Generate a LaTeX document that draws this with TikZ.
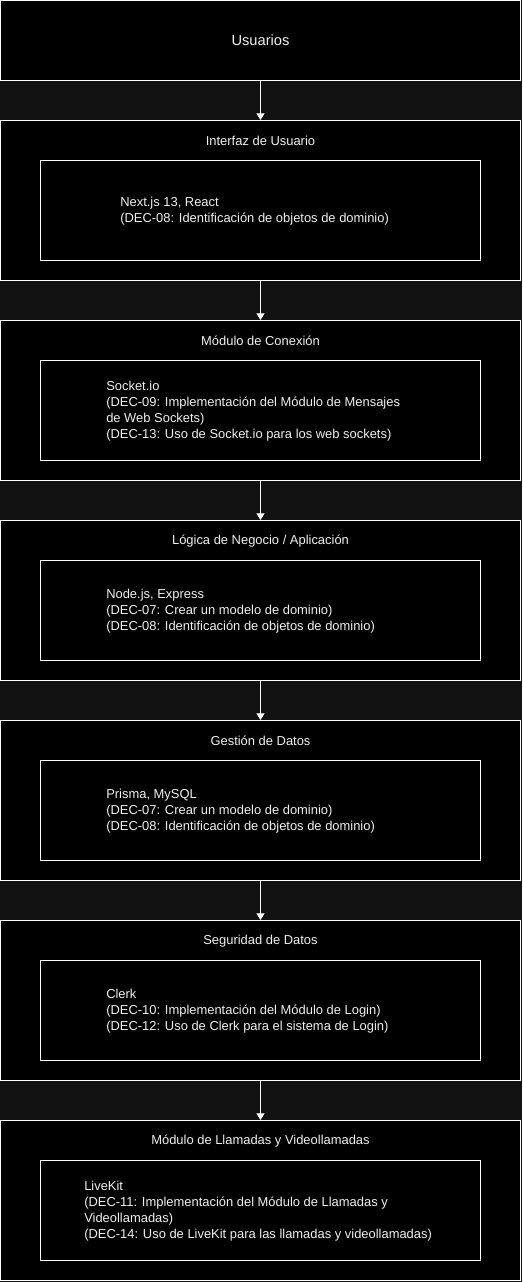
\documentclass[tikz,border=0pt]{standalone}
\usepackage{fontspec}
\setmainfont{Liberation Sans}
\usetikzlibrary{arrows.meta}
\definecolor{bgGray}{RGB}{18,18,18}
\definecolor{txtWhite}{RGB}{240,240,240}
\tikzset{
  layerBox/.style={draw=white, fill=black, line width=0.75pt, minimum width=390pt, minimum height=120pt, inner sep=0pt},
  techBox/.style={draw=white, fill=black, line width=0.75pt, minimum width=330pt, minimum height=75pt, inner sep=0pt},
  layerTitle/.style={text=txtWhite, font=\fontsize{9.7}{12}\selectfont, inner sep=0pt},
  techText/.style={text=txtWhite, font=\fontsize{9.7}{12}\selectfont, align=left, anchor=west, inner sep=0pt},
  flowArrow/.style={draw=white, line width=0.75pt, -{Triangle[length=5pt,width=6pt]}}
}
\begin{document}
\begin{tikzpicture}[x=0.75pt,y=0.75pt,yscale=-1]
%Background
\fill[bgGray] (0,0) rectangle (522,1282);
\useasboundingbox (0,0) rectangle (522,1282);

%Shape: Rectangle [usuarios]
\node[layerBox, minimum height=60pt, text=txtWhite, font=\fontsize{11}{13}\selectfont] (usr) at (260.5,40.5) {Usuarios};

%Shape: Rectangle [interfaz]
\node[layerBox] (ui) at (260.5,200.5) {};
\node[techBox] (uiTech) at (260.5,210.5) {};
% Text Node
\node[layerTitle] (uiTitle) at (260.5,141) {Interfaz de Usuario};
% Text Node
\node[techText] (uiText) at (120,211.5) {Next.js 13, React\\(DEC-08: Identificación de objetos de dominio)};

%Shape: Rectangle [conexion]
\node[layerBox] (con) at (260.5,400.5) {};
\node[techBox] (conTech) at (260.5,410.5) {};
% Text Node
\node[layerTitle] (conTitle) at (260.5,341) {Módulo de Conexión};
% Text Node
\node[techText] (conText) at (106,411.5) {Socket.io\\(DEC-09: Implementación del Módulo de Mensajes\\de Web Sockets)\\(DEC-13: Uso de Socket.io para los web sockets)};

%Shape: Rectangle [logica]
\node[layerBox] (app) at (260.5,600.5) {};
\node[techBox] (appTech) at (260.5,610.5) {};
% Text Node
\node[layerTitle] (appTitle) at (260.5,541) {Lógica de Negocio / Aplicación};
% Text Node
\node[techText] (appText) at (106,611.5) {Node.js, Express\\(DEC-07: Crear un modelo de dominio)\\(DEC-08: Identificación de objetos de dominio)};

%Shape: Rectangle [datos]
\node[layerBox] (dat) at (260.5,800.5) {};
\node[techBox] (datTech) at (260.5,810.5) {};
% Text Node
\node[layerTitle] (datTitle) at (260.5,741) {Gestión de Datos};
% Text Node
\node[techText] (datText) at (106,811.5) {Prisma, MySQL\\(DEC-07: Crear un modelo de dominio)\\(DEC-08: Identificación de objetos de dominio)};

%Shape: Rectangle [seguridad]
\node[layerBox] (seg) at (260.5,1000.5) {};
\node[techBox] (segTech) at (260.5,1010.5) {};
% Text Node
\node[layerTitle] (segTitle) at (260.5,941) {Seguridad de Datos};
% Text Node
\node[techText] (segText) at (106,1011.5) {Clerk\\(DEC-10: Implementación del Módulo de Login)\\(DEC-12: Uso de Clerk para el sistema de Login)};

%Shape: Rectangle [llamadas]
\node[layerBox] (call) at (260.5,1200.5) {};
\node[techBox] (callTech) at (260.5,1210.5) {};
% Text Node
\node[layerTitle] (callTitle) at (260.5,1141) {Módulo de Llamadas y Videollamadas};
% Text Node
\node[techText] (callText) at (84,1211.5) {LiveKit\\(DEC-11: Implementación del Módulo de Llamadas y\\Videollamadas)\\(DEC-14: Uso de LiveKit para las llamadas y videollamadas)};

%Straight Lines
\draw[flowArrow] (usr) -- (ui);
\draw[flowArrow] (ui) -- (con);
\draw[flowArrow] (con) -- (app);
\draw[flowArrow] (app) -- (dat);
\draw[flowArrow] (dat) -- (seg);
\draw[flowArrow] (seg) -- (call);

\end{tikzpicture}
\end{document}
